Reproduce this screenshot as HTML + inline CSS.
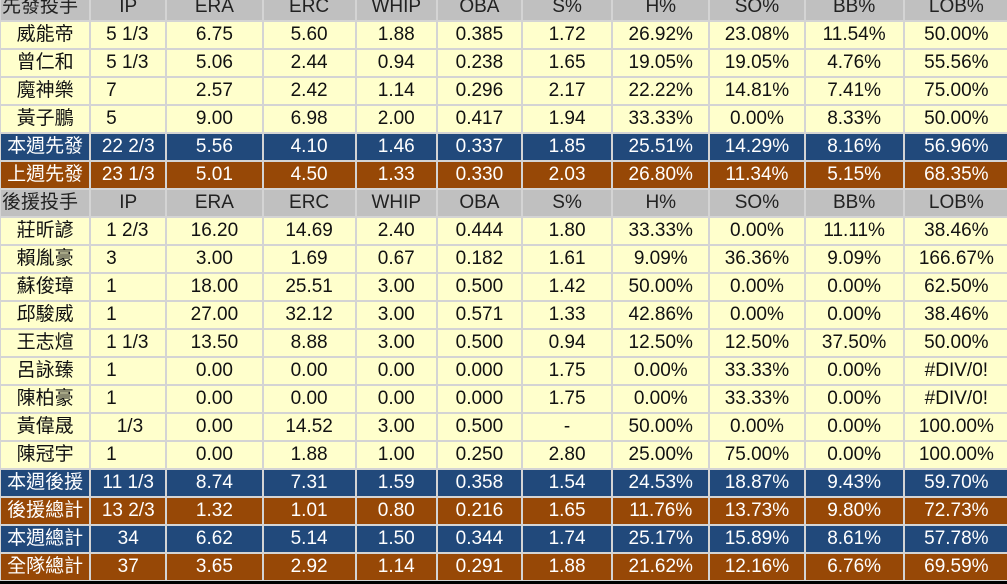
<!DOCTYPE html>
<html><head><meta charset="utf-8"><style>
html,body{margin:0;padding:0;width:1007px;height:584px;overflow:hidden;background:#d4d4d4;}
table{position:absolute;left:-1px;top:-8px;border-collapse:separate;border-spacing:2px;table-layout:fixed;width:1011px;}
td{padding:0;height:26px;text-align:center;font-family:"Liberation Sans","Noto Sans CJK TC",sans-serif;font-size:19px;line-height:26px;white-space:pre;overflow:hidden;color:#111;}
td:first-child{font-size:19px;}
tr.h td{background:#c0c0c0;color:#222;}
tr.y td{background:#ffffcc;}
tr.b td{background:#21497b;color:#fff;}
tr.o td{background:#974806;color:#fff;}
tr.y td:nth-child(2){text-align:left;padding-left:15px;}
tr.h td:first-child{text-align:left;padding-left:1px;}
#bot{position:absolute;left:0;top:581px;width:1007px;height:3px;background:#000;}
</style></head><body>
<table>
<colgroup><col style="width:88px"><col style="width:74px"><col style="width:94px"><col style="width:91px"><col style="width:79px"><col style="width:83px"><col style="width:88px"><col style="width:95px"><col style="width:93px"><col style="width:97px"><col style="width:103px"></colgroup>
<tr class="h"><td>先發投手</td><td>IP</td><td>ERA</td><td>ERC</td><td>WHIP</td><td>OBA</td><td>S%</td><td>H%</td><td>SO%</td><td>BB%</td><td>LOB%</td></tr>
<tr class="y"><td>威能帝</td><td>5 1/3</td><td>6.75</td><td>5.60</td><td>1.88</td><td>0.385</td><td>1.72</td><td>26.92%</td><td>23.08%</td><td>11.54%</td><td>50.00%</td></tr>
<tr class="y"><td>曾仁和</td><td>5 1/3</td><td>5.06</td><td>2.44</td><td>0.94</td><td>0.238</td><td>1.65</td><td>19.05%</td><td>19.05%</td><td>4.76%</td><td>55.56%</td></tr>
<tr class="y"><td>魔神樂</td><td>7</td><td>2.57</td><td>2.42</td><td>1.14</td><td>0.296</td><td>2.17</td><td>22.22%</td><td>14.81%</td><td>7.41%</td><td>75.00%</td></tr>
<tr class="y"><td>黃子鵬</td><td>5</td><td>9.00</td><td>6.98</td><td>2.00</td><td>0.417</td><td>1.94</td><td>33.33%</td><td>0.00%</td><td>8.33%</td><td>50.00%</td></tr>
<tr class="b"><td>本週先發</td><td>22 2/3</td><td>5.56</td><td>4.10</td><td>1.46</td><td>0.337</td><td>1.85</td><td>25.51%</td><td>14.29%</td><td>8.16%</td><td>56.96%</td></tr>
<tr class="o"><td>上週先發</td><td>23 1/3</td><td>5.01</td><td>4.50</td><td>1.33</td><td>0.330</td><td>2.03</td><td>26.80%</td><td>11.34%</td><td>5.15%</td><td>68.35%</td></tr>
<tr class="h"><td>後援投手</td><td>IP</td><td>ERA</td><td>ERC</td><td>WHIP</td><td>OBA</td><td>S%</td><td>H%</td><td>SO%</td><td>BB%</td><td>LOB%</td></tr>
<tr class="y"><td>莊昕諺</td><td>1 2/3</td><td>16.20</td><td>14.69</td><td>2.40</td><td>0.444</td><td>1.80</td><td>33.33%</td><td>0.00%</td><td>11.11%</td><td>38.46%</td></tr>
<tr class="y"><td>賴胤豪</td><td>3</td><td>3.00</td><td>1.69</td><td>0.67</td><td>0.182</td><td>1.61</td><td>9.09%</td><td>36.36%</td><td>9.09%</td><td>166.67%</td></tr>
<tr class="y"><td>蘇俊璋</td><td>1</td><td>18.00</td><td>25.51</td><td>3.00</td><td>0.500</td><td>1.42</td><td>50.00%</td><td>0.00%</td><td>0.00%</td><td>62.50%</td></tr>
<tr class="y"><td>邱駿威</td><td>1</td><td>27.00</td><td>32.12</td><td>3.00</td><td>0.571</td><td>1.33</td><td>42.86%</td><td>0.00%</td><td>0.00%</td><td>38.46%</td></tr>
<tr class="y"><td>王志煊</td><td>1 1/3</td><td>13.50</td><td>8.88</td><td>3.00</td><td>0.500</td><td>0.94</td><td>12.50%</td><td>12.50%</td><td>37.50%</td><td>50.00%</td></tr>
<tr class="y"><td>呂詠臻</td><td>1</td><td>0.00</td><td>0.00</td><td>0.00</td><td>0.000</td><td>1.75</td><td>0.00%</td><td>33.33%</td><td>0.00%</td><td>#DIV/0!</td></tr>
<tr class="y"><td>陳柏豪</td><td>1</td><td>0.00</td><td>0.00</td><td>0.00</td><td>0.000</td><td>1.75</td><td>0.00%</td><td>33.33%</td><td>0.00%</td><td>#DIV/0!</td></tr>
<tr class="y"><td>黃偉晟</td><td>  1/3</td><td>0.00</td><td>14.52</td><td>3.00</td><td>0.500</td><td>-</td><td>50.00%</td><td>0.00%</td><td>0.00%</td><td>100.00%</td></tr>
<tr class="y"><td>陳冠宇</td><td>1</td><td>0.00</td><td>1.88</td><td>1.00</td><td>0.250</td><td>2.80</td><td>25.00%</td><td>75.00%</td><td>0.00%</td><td>100.00%</td></tr>
<tr class="b"><td>本週後援</td><td>11 1/3</td><td>8.74</td><td>7.31</td><td>1.59</td><td>0.358</td><td>1.54</td><td>24.53%</td><td>18.87%</td><td>9.43%</td><td>59.70%</td></tr>
<tr class="o"><td>後援總計</td><td>13 2/3</td><td>1.32</td><td>1.01</td><td>0.80</td><td>0.216</td><td>1.65</td><td>11.76%</td><td>13.73%</td><td>9.80%</td><td>72.73%</td></tr>
<tr class="b"><td>本週總計</td><td>34</td><td>6.62</td><td>5.14</td><td>1.50</td><td>0.344</td><td>1.74</td><td>25.17%</td><td>15.89%</td><td>8.61%</td><td>57.78%</td></tr>
<tr class="o"><td>全隊總計</td><td>37</td><td>3.65</td><td>2.92</td><td>1.14</td><td>0.291</td><td>1.88</td><td>21.62%</td><td>12.16%</td><td>6.76%</td><td>69.59%</td></tr>
</table>
<div id="bot"></div>
</body></html>
